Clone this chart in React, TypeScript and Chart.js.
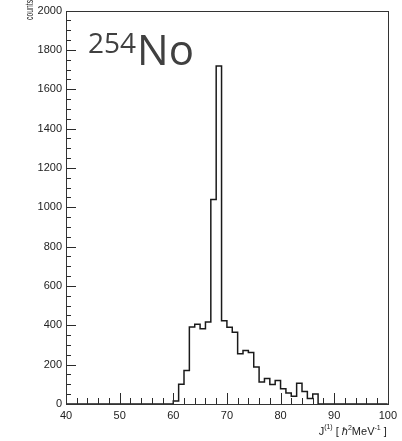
import React, { useEffect, useRef } from 'react';
import { Chart, registerables } from 'chart.js';

Chart.register(...registerables);

// Histogram bins (lower edges, width 1) and their counts
const binLow = [60, 61, 62, 63, 64, 65, 66, 67, 68, 69, 70, 71, 72, 73, 74, 75, 76, 77, 78, 79, 80, 81, 82, 83, 84, 85, 86];
const counts = [15, 100, 170, 392, 405, 383, 417, 1040, 1718, 423, 390, 365, 255, 272, 262, 188, 112, 130, 99, 120, 77, 56, 39, 106, 64, 28, 51];
const binWidth = 1;

const X_MIN = 40;
const X_MAX = 100;
const Y_MIN = 0;
const Y_MAX = 2000;
const X_MAJOR = 10;
const X_MINOR = 2;
const Y_MAJOR = 200;
const Y_MINOR = 50;

const FONT = '"Liberation Sans", Arial, sans-serif';

const decor = {
  id: 'decor',
  afterDatasetsDraw(chart: any) {
    const { ctx, chartArea: a, scales } = chart;
    const xs = scales.x;
    const ys = scales.y;
    ctx.save();
    ctx.strokeStyle = '#2a2a2a';
    ctx.lineWidth = 1;
    ctx.beginPath();
    for (let v = X_MIN; v <= X_MAX + 1e-9; v += X_MINOR) {
      const px = Math.round(xs.getPixelForValue(v)) + 0.5;
      const len = Math.abs(v % X_MAJOR) < 1e-9 ? 11 : 6;
      ctx.moveTo(px, a.bottom);
      ctx.lineTo(px, a.bottom - len);
    }
    for (let v = Y_MIN; v <= Y_MAX + 1e-9; v += Y_MINOR) {
      const py = Math.round(ys.getPixelForValue(v)) + 0.5;
      const len = Math.abs(v % Y_MAJOR) < 1e-9 ? 10 : 5;
      ctx.moveTo(a.left, py);
      ctx.lineTo(a.left + len, py);
    }
    ctx.stroke();
    // frame
    ctx.strokeStyle = '#333';
    ctx.strokeRect(Math.round(a.left) + 0.5, Math.round(a.top) + 0.5, Math.round(a.right - a.left), Math.round(a.bottom - a.top));
    ctx.restore();
  },
  afterDraw(chart: any) {
    const { ctx, chartArea: a } = chart;
    ctx.save();
    // y axis title "counts"
    ctx.fillStyle = '#222';
    ctx.translate(a.left - 33, 20);
    ctx.rotate(-Math.PI / 2);
    ctx.scale(0.68, 1);
    ctx.font = `10px ${FONT}`;
    ctx.textAlign = 'left';
    ctx.textBaseline = 'alphabetic';
    ctx.fillText('counts', 0, 0);
    ctx.restore();

    // x axis title J^(1) [ ħ^2 MeV^-1 ]
    ctx.save();
    ctx.fillStyle = '#222';
    ctx.textBaseline = 'alphabetic';
    ctx.textAlign = 'left';
    const parts: [string, string, number][] = [
      ['J', `11px ${FONT}`, 0],
      ['(1)', `7px ${FONT}`, -6],
      [' [ ', `11px ${FONT}`, 0],
      ['ħ', `italic 11px ${FONT}`, 0],
      ['2', `7px ${FONT}`, -5],
      ['MeV', `11px ${FONT}`, 0],
      ['-1', `7px ${FONT}`, -5],
      [' ]', `11px ${FONT}`, 0],
    ];
    let total = 0;
    for (const [t, f] of parts) {
      ctx.font = f;
      total += ctx.measureText(t).width;
    }
    let x = a.right - 1 - total;
    const base = 435;
    for (const [t, f, dy] of parts) {
      ctx.font = f;
      ctx.fillText(t, x, base + dy);
      x += ctx.measureText(t).width;
    }
    ctx.restore();

    // nucleus label 254No
    ctx.save();
    ctx.fillStyle = '#404040';
    ctx.textAlign = 'left';
    ctx.textBaseline = 'alphabetic';
    ctx.font = `28px "Open Sans", sans-serif`;
    ctx.fillText('254', 88, 53);
    const w = ctx.measureText('254').width;
    ctx.font = `42px "Open Sans", sans-serif`;
    ctx.fillText('No', 88 + w + 1, 65);
    ctx.restore();
  },
};

export default function App() {
  const ref = useRef<HTMLCanvasElement | null>(null);

  useEffect(() => {
    document.body.style.margin = '0';
    const canvas = ref.current;
    if (!canvas) return;

    const points: { x: number; y: number }[] = [{ x: X_MIN, y: 0 }];
    binLow.forEach((b, i) => points.push({ x: b, y: counts[i] }));
    points.push({ x: binLow[binLow.length - 1] + binWidth, y: 0 });
    points.push({ x: X_MAX, y: 0 });

    const chart = new Chart(canvas, {
      type: 'line',
      data: {
        datasets: [
          {
            data: points,
            stepped: 'before',
            borderColor: '#1a1a1a',
            borderWidth: 1.5,
            pointRadius: 0,
            fill: false,
          },
        ],
      },
      options: {
        responsive: false,
        animation: false,
        events: [],
        layout: { padding: { top: 9, right: 14, left: 0, bottom: 0 } },
        plugins: {
          legend: { display: false },
          tooltip: { enabled: false },
          title: { display: false },
        },
        scales: {
          x: {
            type: 'linear',
            min: X_MIN,
            max: X_MAX,
            grid: { display: false, drawTicks: false },
            border: { display: false },
            ticks: {
              stepSize: X_MAJOR,
              padding: 5,
              color: '#222',
              font: { family: FONT, size: 11 },
              maxRotation: 0,
              callback: (v: any) => String(v),
            },
            afterFit: (s: any) => {
              s.height = 37;
            },
          },
          y: {
            type: 'linear',
            min: Y_MIN,
            max: Y_MAX,
            grid: { display: false, drawTicks: false },
            border: { display: false },
            ticks: {
              stepSize: Y_MAJOR,
              padding: 4,
              color: '#222',
              font: { family: FONT, size: 11 },
              callback: (v: any) => String(v),
            },
            afterFit: (s: any) => {
              s.width = 66;
            },
          },
        },
      },
      plugins: [decor],
    });

    return () => chart.destroy();
  }, []);

  return (
    <div style={{ width: 402, height: 441, background: '#fff' }}>
      <canvas ref={ref} width={402} height={441} style={{ display: 'block' }} />
    </div>
  );
}
